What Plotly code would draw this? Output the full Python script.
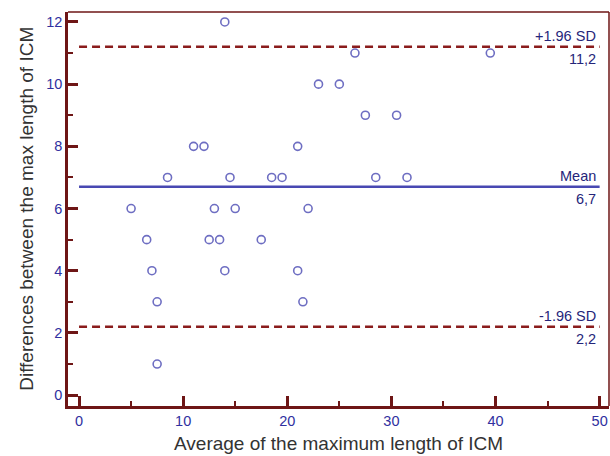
import plotly.graph_objects as go

# Data (Bland-Altman)
avg_vals = [14, 26.5, 39.5, 23, 25, 27.5, 30.5, 11, 12, 21,
            8.5, 14.5, 18.5, 19.5, 28.5, 31.5, 5, 13, 15, 22,
            6.5, 12.5, 13.5, 17.5, 7, 14, 21, 7.5, 21.5, 7.5]
diff_vals = [12, 11, 11, 10, 10, 9, 9, 8, 8, 8,
             7, 7, 7, 7, 7, 7, 6, 6, 6, 6,
             5, 5, 5, 5, 4, 4, 4, 3, 3, 1]
mean_diff = 6.7
upper_loa = 11.2
lower_loa = 2.2
line_x = [0, 50]
x_ticks = [0, 10, 20, 30, 40, 50]
y_ticks = [0, 2, 4, 6, 8, 10, 12]

axis_col = "#6E1616"
tick_font_col = "#3030A0"
label_col = "#25257A"
marker_col = "#6E6EC2"
mean_col = "#4848B2"
loa_col = "#8A1C1C"

fig = go.Figure()

for yv in (upper_loa, lower_loa):
    fig.add_trace(go.Scatter(x=line_x, y=[yv, yv], mode="lines",
                             line=dict(color=loa_col, width=2.5, dash="8px,5px"),
                             hoverinfo="skip", showlegend=False))
fig.add_trace(go.Scatter(x=line_x, y=[mean_diff, mean_diff], mode="lines",
                         line=dict(color=mean_col, width=2.5),
                         hoverinfo="skip", showlegend=False))

fig.add_trace(go.Scatter(x=avg_vals, y=diff_vals, mode="markers",
                         marker=dict(symbol="circle-open", size=8, color=marker_col,
                                     line=dict(width=1.6, color=marker_col)),
                         showlegend=False))

labels = [("+1.96 SD", "11,2", upper_loa), ("Mean", "6,7", mean_diff), ("-1.96 SD", "2,2", lower_loa)]
for top, bot, yv in labels:
    fig.add_annotation(x=49.8, y=yv, text=top, showarrow=False, xanchor="right",
                       yanchor="bottom", yshift=1,
                       font=dict(family="Liberation Sans", size=14.5, color=label_col))
    fig.add_annotation(x=49.8, y=yv, text=bot, showarrow=False, xanchor="right",
                       yanchor="top", yshift=-2,
                       font=dict(family="Liberation Sans", size=14.5, color=label_col))

# Axis titles
fig.add_annotation(xref="paper", yref="paper", x=0.5, y=-0.1269, text="Average of the maximum length of ICM",
                   showarrow=False, xanchor="center", yanchor="bottom",
                   font=dict(family="Liberation Sans", size=19, color="#333333"))
fig.add_annotation(xref="paper", yref="paper", x=-0.078, y=0.5, text="Differences between the max length of ICM",
                   showarrow=False, xanchor="center", yanchor="middle", textangle=-90,
                   font=dict(family="Liberation Sans", size=19, color="#333333"))

# top/right frame
fig.add_shape(type="line", xref="paper", yref="paper", x0=0, x1=1, y0=1, y1=1,
              line=dict(color=axis_col, width=1.5))
fig.add_shape(type="line", xref="paper", yref="paper", x0=1, x1=1, y0=0, y1=1,
              line=dict(color=axis_col, width=1.5))

fig.update_xaxes(range=[-1.06, 50.9], tickmode="array", tickvals=x_ticks,
                 ticks="inside", ticklen=10, tickwidth=2.5, tickcolor=axis_col,
                 minor=dict(ticks="inside", ticklen=5, tickwidth=2, tickcolor=axis_col, dtick=5, tick0=0),
                 showline=True, linecolor=axis_col, linewidth=2.5, showgrid=False, zeroline=False,
                 ticklabeloverflow="allow",
                 tickfont=dict(family="Liberation Sans", size=14.5, color=tick_font_col))
fig.update_yaxes(range=[-0.35, 12.32], tickmode="array", tickvals=y_ticks,
                 ticks="inside", ticklen=10, tickwidth=2.5, tickcolor=axis_col,
                 minor=dict(ticks="inside", ticklen=5, tickwidth=2, tickcolor=axis_col, dtick=1, tick0=0),
                 showline=True, linecolor=axis_col, linewidth=2.5, showgrid=False, zeroline=False,
                 tickfont=dict(family="Liberation Sans", size=14.5, color=tick_font_col))

fig.update_layout(width=610, height=456, margin=dict(l=68, r=1, t=12, b=50),
                  plot_bgcolor="white", paper_bgcolor="white")

fig.write_html("out.html", config={"displayModeBar": False},
               post_script="document.body.style.margin='0';document.body.style.overflow='hidden';")
